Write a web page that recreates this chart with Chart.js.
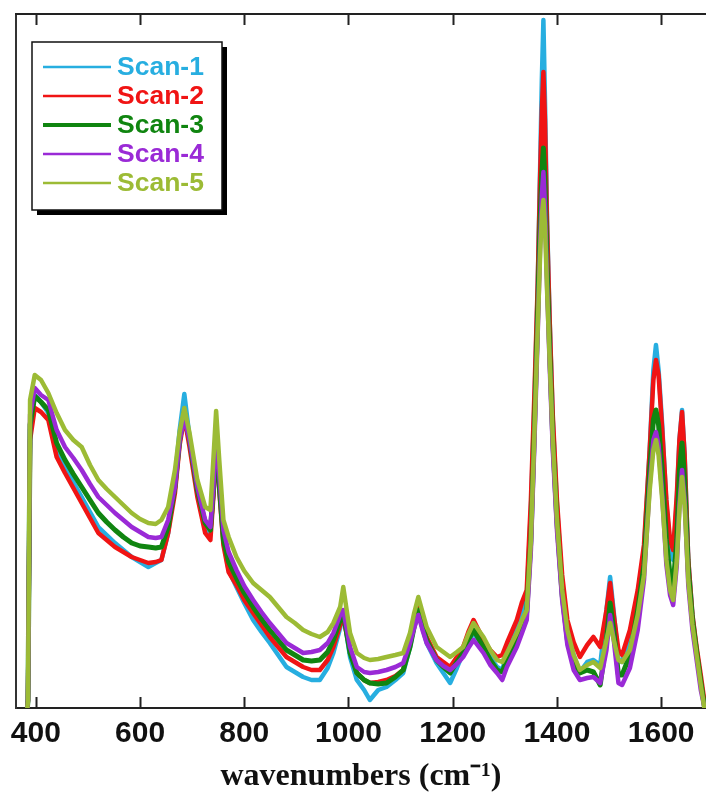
<!DOCTYPE html>
<html>
<head>
<meta charset="utf-8">
<script src="https://cdn.jsdelivr.net/npm/chart.js@4.4.1/dist/chart.umd.min.js"></script>
<style>
  html, body { margin: 0; padding: 0; background: #ffffff; overflow: hidden; }
  #wrap { width: 706px; height: 806px; }
</style>
</head>
<body>
<div id="wrap"><canvas id="c" width="706" height="806"></canvas></div>
<script>
// ---- data (wavenumber in cm-1, intensity in arbitrary units) ----
const wavenumbers = [382,385,389,398,410,424,440,456,472,488,
  504,520,536,552,568,584,600,616,630,641,
  654,667,676,685,695,710,725,735,741,746,
  752,760,770,785,800,817,833,849,865,881,
  897,913,929,945,960,971,984,990,1003,1016,
  1030,1041,1057,1073,1090,1105,1118,1126,1134,1142,
  1150,1169,1182,1195,1208,1220,1230,1240,1259,1272,
  1285,1295,1304,1323,1333,1342,1350,1357,1363,1368,
  1371,1374,1377,1381,1386,1392,1400,1410,1420,1432,
  1444,1458,1470,1483,1495,1502,1509,1518,1525,1540,
  1555,1567,1578,1585,1590,1595,1602,1610,1617,1623,
  1630,1635,1640,1645,1652,1660,1668,1676,1684,1690];

const scan1 = [-12,8,278,313,306,295,258,241,226,211,
  196,181,173,165,158,151,146,141,145,148,
  175,228,278,314,271,218,181,175,218,273,
  228,168,138,121,105,88,76,65,53,41,
  36,31,28,28,40,55,80,95,51,28,
  18,8,18,21,28,35,61,83,95,80,
  65,45,35,25,40,55,66,75,61,51,
  41,38,55,81,96,110,198,308,418,548,
  628,688,608,488,388,288,203,123,78,53,
  36,46,48,43,98,131,96,48,46,73,
  113,158,258,338,363,338,283,203,163,148,
  208,268,298,253,148,93,58,28,-2,-12];

const scan2 = [-12,8,268,300,296,288,251,235,220,205,
  190,175,168,161,156,151,148,145,146,148,
  175,215,263,291,261,211,175,168,213,268,
  218,163,136,123,108,95,83,71,61,51,
  46,41,38,38,48,61,83,91,58,35,
  28,25,26,28,32,38,65,88,108,88,
  71,51,46,41,51,61,76,88,68,58,
  51,53,65,88,106,118,208,318,423,538,
  598,636,588,483,388,293,208,133,88,66,
  51,63,71,61,98,125,93,58,53,78,
  118,163,258,328,348,333,278,208,168,158,
  213,268,296,253,148,93,61,33,3,-12];

const scan3 = [-12,8,283,312,306,298,265,248,234,221,
  208,195,186,178,171,165,162,161,160,161,
  181,221,268,296,268,218,185,178,220,276,
  223,168,146,130,115,101,89,78,68,58,
  53,48,47,48,56,68,88,95,55,35,
  28,25,24,25,31,38,61,81,98,81,
  68,48,41,35,46,55,68,78,61,48,
  38,36,48,68,83,96,168,283,393,493,
  536,560,528,443,358,268,186,113,68,43,
  35,38,36,23,68,105,78,33,33,53,
  98,143,238,288,298,283,238,168,133,123,
  168,238,265,228,138,88,56,26,-2,-12];

const scan4 = [-12,8,293,320,313,308,278,261,250,238,
  224,211,203,195,188,181,176,171,170,171,
  188,221,268,290,268,221,188,181,223,278,
  233,178,156,138,122,108,96,85,75,65,
  60,55,56,58,65,75,93,98,61,41,
  36,35,36,38,41,45,65,80,93,78,
  65,48,42,38,44,51,60,68,55,43,
  35,28,41,61,75,88,158,268,373,468,
  513,536,503,423,343,258,178,108,63,38,
  28,30,31,25,58,93,68,25,23,40,
  78,128,223,268,276,263,213,143,113,103,
  143,203,238,208,123,78,48,18,-2,-12];

const scan5 = [-12,8,308,333,328,315,295,278,268,261,
  243,228,219,211,203,195,189,185,184,188,
  201,238,276,300,275,228,201,198,251,297,
  248,188,171,151,137,125,118,111,101,91,
  85,78,74,71,76,85,101,121,75,55,
  50,48,49,51,53,55,75,95,111,96,
  81,61,56,51,56,61,74,85,71,58,
  48,46,55,75,88,98,168,278,378,458,
  493,508,483,418,348,268,188,118,78,53,
  38,43,46,40,68,85,68,48,46,58,
  93,133,218,258,268,253,208,148,118,108,
  148,198,231,203,128,83,53,23,-4,-12];

const seriesLabels = ['Scan-1','Scan-2','Scan-3','Scan-4','Scan-5'];
const seriesColors = ['#27aee0','#f01414','#108510','#9a2ad6','#9cbb35'];
const seriesWidths = [4.5,4.5,5,4.5,4.5];
const xTickValues = [400,600,800,1000,1200,1400,1600];
const xTitle = 'wavenumbers (cm\u207B\u00B9)';

const allSeries = [scan1, scan2, scan3, scan4, scan5];

const datasets = allSeries.map((s, i) => ({
  label: seriesLabels[i],
  data: wavenumbers.map((x, j) => ({x: x, y: s[j]})),
  borderColor: seriesColors[i],
  backgroundColor: seriesColors[i],
  borderWidth: seriesWidths[i],
  borderJoinStyle: 'round',
  pointRadius: 0,
  tension: 0,
  fill: false,
  order: allSeries.length - i   // Scan-1 drawn first, Scan-5 on top
}));

const framePlugin = {
  id: 'frame',
  afterDatasetsDraw(chart) {
    const ctx = chart.ctx;
    const a = chart.chartArea;
    const xs = chart.scales.x;
    ctx.save();
    ctx.strokeStyle = '#222';
    ctx.lineWidth = 2;
    // top border
    ctx.beginPath();
    ctx.moveTo(a.left - 1, a.top);
    ctx.lineTo(a.right, a.top);
    ctx.stroke();
    // inward ticks on bottom and top
    xs.ticks.forEach(t => {
      const px = Math.round(xs.getPixelForValue(t.value)) + 0.5;
      ctx.beginPath();
      ctx.moveTo(px, a.bottom);
      ctx.lineTo(px, a.bottom - 11);
      ctx.moveTo(px, a.top);
      ctx.lineTo(px, a.top + 11);
      ctx.stroke();
    });
    ctx.restore();

    // legend box
    const bx = 32, by = 42, bw = 190, bh = 168;
    ctx.save();
    ctx.fillStyle = '#000';
    ctx.fillRect(bx + 5, by + 5, bw, bh);
    ctx.fillStyle = '#fff';
    ctx.fillRect(bx, by, bw, bh);
    ctx.strokeStyle = '#111';
    ctx.lineWidth = 1.5;
    ctx.strokeRect(bx, by, bw, bh);
    chart.data.datasets.forEach((ds, i) => {
      const y = 67 + i * 29;
      ctx.strokeStyle = ds.borderColor;
      ctx.lineWidth = i === 2 ? 4 : 2.5;
      ctx.beginPath();
      ctx.moveTo(43, y);
      ctx.lineTo(111, y);
      ctx.stroke();
      ctx.fillStyle = ds.borderColor;
      ctx.font = 'bold 26.5px "Liberation Sans", Arial, sans-serif';
      ctx.textBaseline = 'middle';
      ctx.textAlign = 'left';
      ctx.fillText(ds.label, 117, y + 1);
    });
    ctx.restore();
  }
};

new Chart(document.getElementById('c'), {
  type: 'line',
  data: { datasets: datasets },
  options: {
    responsive: false,
    animation: false,
    devicePixelRatio: 1,
    layout: { padding: { top: 14, left: 0, right: 0, bottom: 0 } },
    plugins: { legend: { display: false }, tooltip: { enabled: false } },
    scales: {
      x: {
        type: 'linear',
        min: 362,
        max: 1686,
        afterBuildTicks: (s) => { s.ticks = xTickValues.map(v => ({value: v})); },
        afterFit: (s) => { s.height = 98; },
        grid: { display: false, drawTicks: false },
        border: { display: true, color: '#222', width: 2 },
        ticks: {
          padding: 8,
          color: '#111',
          maxRotation: 0,
          callback: (v) => String(v),
          font: { family: '"Liberation Sans", Arial, sans-serif', weight: 'bold', size: 30 }
        },
        title: {
          display: true,
          text: xTitle,
          color: '#111',
          padding: { top: 4, bottom: 10 },
          font: { family: '"Liberation Serif", "Times New Roman", serif', weight: 'bold', size: 32 }
        }
      },
      y: {
        min: 0,
        max: 694,
        afterFit: (s) => { s.width = 16; },
        grid: { display: false, drawTicks: false },
        border: { display: true, color: '#333', width: 2 },
        ticks: { display: false }
      }
    }
  },
  plugins: [framePlugin]
});
</script>
</body>
</html>
